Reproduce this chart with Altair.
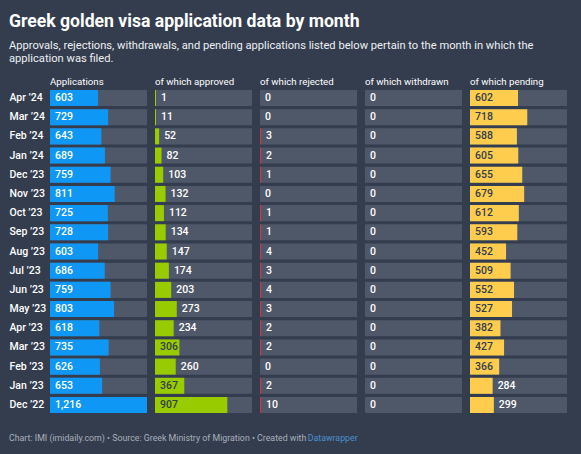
import altair as alt
import pandas as pd

months = ["Apr ’24", "Mar ’24", "Feb ’24", "Jan ’24", "Dec ’23", "Nov ’23", "Oct ’23",
          "Sep ’23", "Aug ’23", "Jul ’23", "Jun ’23", "May ’23", "Apr ’23", "Mar ’23",
          "Feb ’23", "Jan ’23", "Dec ’22"]
applications = [603, 729, 643, 689, 759, 811, 725, 728, 603, 686, 759, 803, 618, 735, 626, 653, 1216]
approved = [1, 11, 52, 82, 103, 132, 112, 134, 147, 174, 203, 273, 234, 306, 260, 367, 907]
rejected = [0, 0, 3, 2, 1, 0, 1, 1, 4, 3, 4, 3, 2, 2, 0, 2, 10]
withdrawn = [0, 0, 0, 0, 0, 0, 0, 0, 0, 0, 0, 0, 0, 0, 0, 0, 0]
pending = [602, 718, 588, 605, 655, 679, 612, 593, 452, 509, 552, 527, 382, 427, 366, 284, 299]

headers = ["Applications", "of which approved", "of which rejected",
           "of which withdrawn", "of which pending"]
series = [applications, approved, rejected, withdrawn, pending]

title = "Greek golden visa application data by month"
subtitle = ["Approvals, rejections, withdrawals, and pending applications listed below pertain to the month in which the",
            "application was filed."]
footer = "Chart: IMI (imidaily.com) • Source: Greek Ministry of Migration • Created with "
footer_link = "Datawrapper"

BG = "#333d4e"
TRACK = "#4f5868"
COLORS = ["#0f97f6", "#99cc00", "#dd3340", "#8a8f99", "#ffcd4d"]
INSIDE_TEXT = ["#ffffff", "#333d4e", "#333d4e", "#333d4e", "#333d4e"]
FONT = "Roboto"

MAXV = max(applications)
W = 97
H = 323


def panel(i):
    df = pd.DataFrame({"month": months, "v": series[i], "maxv": MAXV})
    xs = alt.Scale(domain=[0, MAXV], nice=False, zero=True)
    if i == 0:
        yaxis = alt.Axis(title=None, orient="left", ticks=False, domain=False,
                         labelAlign="left", labelPadding=41, labelFontSize=10.5,
                         labelColor="#ffffff", labelFont=FONT, labelFontWeight=500,
                         labelBaseline="middle")
    else:
        yaxis = None
    y = alt.Y("month:N", sort=months,
              scale=alt.Scale(paddingInner=0.166, paddingOuter=0), axis=yaxis)
    base = alt.Chart(df).transform_calculate(
        bv="datum.v > 0 ? max(datum.v, %f) : 0" % (MAXV / W),
        inside="datum.v >= 300",
    ).transform_calculate(
        lx="datum.inside ? 0 : datum.bv",
        tc="datum.inside ? '%s' : '#ffffff'" % INSIDE_TEXT[i],
    )
    track = base.mark_bar(color=TRACK).encode(
        x=alt.X("maxv:Q", scale=xs, axis=None), y=y)
    bar = base.mark_bar(color=COLORS[i]).encode(
        x=alt.X("bv:Q", scale=xs, axis=None), y=y)
    txt = base.mark_text(align="left", baseline="middle", dx=5, fontSize=10.5,
                         font=FONT, fontWeight=500).encode(
        x=alt.X("lx:Q", scale=xs, axis=None), y=y,
        text=alt.Text("v:Q", format=",d"),
        color=alt.Color("tc:N", scale=None))
    layers = [track, bar, txt]
    if i == 0:
        fdf = pd.DataFrame({"t": [footer], "l": [footer_link]})
        f1 = alt.Chart(fdf).mark_text(align="left", baseline="middle", fontSize=8.8,
                                      font=FONT, color="#aab0ba").encode(
            text="t:N", x=alt.value(-41), y=alt.value(H + 25))
        f2 = alt.Chart(fdf).mark_text(align="left", baseline="middle", fontSize=8.8,
                                      font=FONT, color="#4c90cc").encode(
            text="l:N", x=alt.value(257.7), y=alt.value(H + 25))
        layers += [f1, f2]
    return alt.layer(*layers).properties(
        width=W, height=H,
        title=alt.TitleParams(headers[i], anchor="start", frame="group", fontSize=9.7,
                              font=FONT, color="#ffffff", fontWeight="normal",
                              baseline="bottom", offset=-7))


chart = alt.hconcat(*[panel(i) for i in range(5)], spacing=8, bounds="flush").properties(
    background=BG,
    padding={"left": 9, "top": 12, "right": 14, "bottom": 12},
    title=alt.TitleParams(title, subtitle=subtitle, anchor="start", frame="bounds",
                          fontSize=17.6, font=FONT, fontWeight="bold", color="#ffffff",
                          subtitleFont=FONT, subtitleFontSize=11.15, subtitleColor="#eef0f3",
                          subtitleLineHeight=13, subtitlePadding=10, offset=13),
).configure_view(stroke=None)

chart.save("out.html", embed_options={"renderer": "svg", "actions": False})
